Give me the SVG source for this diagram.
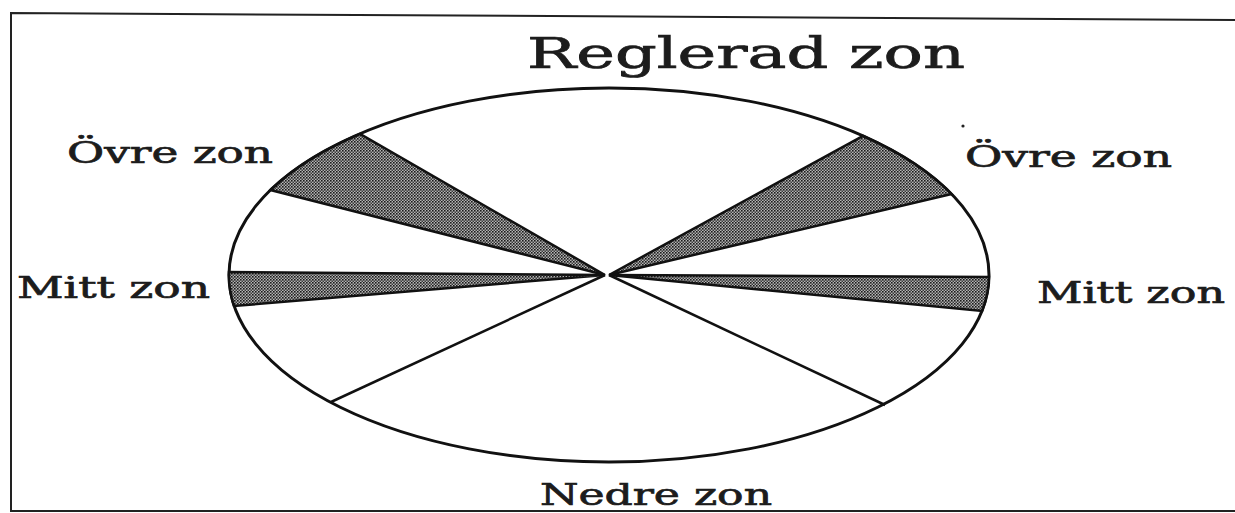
<svg xmlns="http://www.w3.org/2000/svg" width="1235" height="513" viewBox="0 0 1235 513">
  <defs>
    <pattern id="dots" width="3" height="3" patternUnits="userSpaceOnUse">
      <rect width="3" height="3" fill="#b4b4b4"/>
      <rect x="0" y="0" width="1.6" height="1.6" fill="#1a1a1a"/>
      <rect x="1.5" y="1.5" width="1.5" height="1.5" fill="#3a3a3a"/>
    </pattern>
    <style>
      .lbl { font-family: "DejaVu Serif", "Liberation Serif", serif; fill: #1c1c1c; stroke: #1c1c1c; stroke-width: 0.7; }
      .wedge { fill: url(#dots); stroke: #111; stroke-width: 2.5; stroke-linejoin: miter; }
      .ray { stroke: #111; stroke-width: 2.5; fill: none; }
      .frame { stroke: #222; stroke-width: 2; fill: none; }
    </style>
  </defs>
  <rect width="1235" height="513" fill="#fff"/>
  <g id="frame">
    <polyline class="frame" points="1235,20 11,13 11,511 1235,511"/>
  </g>
  <g id="zone-ellipse">
    <ellipse cx="609" cy="275" rx="380" ry="187" fill="#fff" stroke="#111" stroke-width="3"/>
  </g>
  <g id="wedges">
    <path id="ovre-left" class="wedge" d="M605,275 L360,134 A380 187 0 0 0 270.5,190 Z"/>
    <path id="mitt-left" class="wedge" d="M605,275 L229,272 A380 187 0 0 0 234,306 Z"/>
    <path id="ovre-right" class="wedge" d="M609,275 L863,136 A380 187 0 0 1 951.5,194 Z"/>
    <path id="mitt-right" class="wedge" d="M609,275 L989,277 A380 187 0 0 1 982,311 Z"/>
  </g>
  <g id="connectors">
    <line class="ray" x1="605" y1="275" x2="331" y2="402"/>
    <line class="ray" x1="609" y1="275" x2="885" y2="405"/>
  </g>
  <g id="labels">
    <text id="title" class="lbl" x="527" y="68" font-size="42" stroke-width="1" textLength="438" lengthAdjust="spacingAndGlyphs">Reglerad zon</text>
    <text id="ovre-left-label" class="lbl" x="67" y="163" font-size="30" textLength="206" lengthAdjust="spacingAndGlyphs">Övre zon</text>
    <text id="ovre-right-label" class="lbl" x="965" y="167" font-size="30" textLength="207" lengthAdjust="spacingAndGlyphs">Övre zon</text>
    <text id="mitt-left-label" class="lbl" x="17" y="298" font-size="30" textLength="193" lengthAdjust="spacingAndGlyphs">Mitt zon</text>
    <text id="mitt-right-label" class="lbl" x="1037" y="303" font-size="30" textLength="188" lengthAdjust="spacingAndGlyphs">Mitt zon</text>
    <text id="nedre-label" class="lbl" x="540" y="505" font-size="30" textLength="232" lengthAdjust="spacingAndGlyphs">Nedre zon</text>
  </g>
  <circle cx="963" cy="126" r="1.6" fill="#222"/>
</svg>
